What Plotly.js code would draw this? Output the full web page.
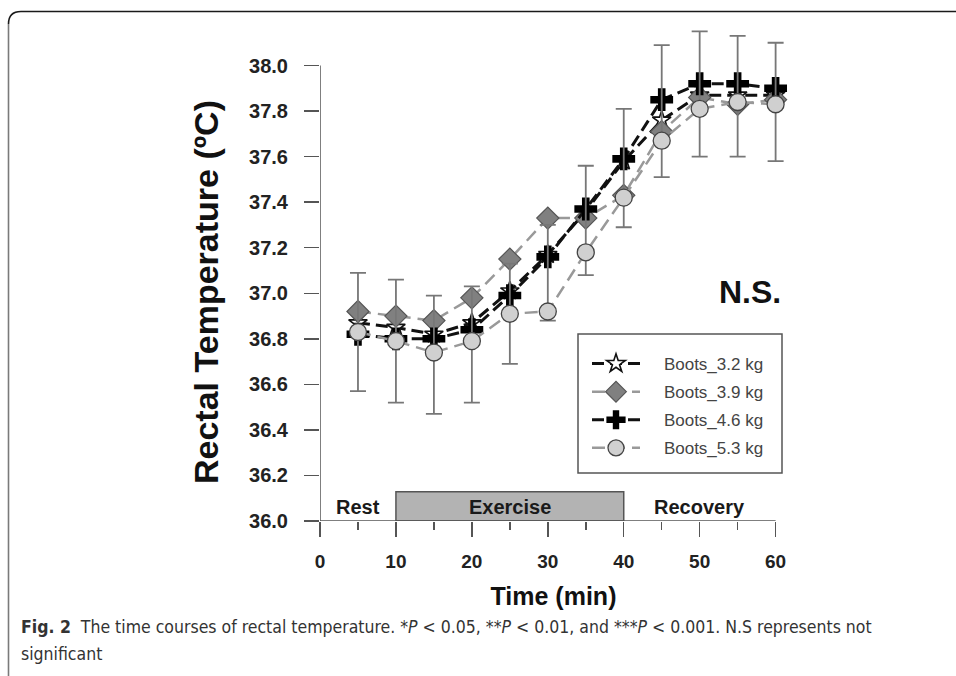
<!DOCTYPE html>
<html>
<head>
<meta charset="utf-8">
<script src="https://cdn.plot.ly/plotly-3.0.1.min.js"></script>
<style>
html,body{margin:0;padding:0;background:#fff;}
#chart{width:956px;height:676px;}
</style>
</head>
<body>
<div id="chart"></div>
<script>
// ---- data ----
const timeMin = [5, 10, 15, 20, 25, 30, 35, 40, 45, 50, 55, 60];
const boots32 = [36.87, 36.85, 36.82, 36.87, 37.01, 37.17, 37.36, 37.58, 37.76, 37.87, 37.87, 37.87];
const boots39 = [36.92, 36.90, 36.88, 36.98, 37.15, 37.33, 37.33, 37.43, 37.71, 37.86, 37.83, 37.85];
const boots46 = [36.82, 36.80, 36.80, 36.84, 36.99, 37.16, 37.37, 37.59, 37.85, 37.92, 37.92, 37.90];
const boots53 = [36.83, 36.79, 36.74, 36.79, 36.91, 36.92, 37.18, 37.42, 37.67, 37.81, 37.84, 37.83];
const errUpper = [37.09, 37.06, 36.99, 37.03, 37.13, 37.30, 37.56, 37.81, 38.09, 38.15, 38.13, 38.10];
const errLower = [36.57, 36.52, 36.47, 36.52, 36.69, 36.88, 37.08, 37.29, 37.51, 37.60, 37.60, 37.58];
const seriesNames = ['Boots_3.2 kg', 'Boots_3.9 kg', 'Boots_4.6 kg', 'Boots_5.3 kg'];
const yTicks = [36.0, 36.2, 36.4, 36.6, 36.8, 37.0, 37.2, 37.4, 37.6, 37.8, 38.0];
const xTicks = [0, 10, 20, 30, 40, 50, 60];
const phaseNames = ['Rest', 'Exercise', 'Recovery'];
const phaseCenter = [5, 25, 50];
const exerciseStart = 10, exerciseEnd = 40;
const yTitle = 'Rectal Temperature (ºC)';
const xTitle = 'Time (min)';

// ---- layout helpers (pixel -> paper) ----
const L = 320, R = 787, T = 20, B = 521;
const pxX = v => (v - L) / (R - L);
const pxY = v => (B - v) / (B - T);
const FONT = 'Liberation Sans, Arial, sans-serif';
const pad = '\u00a0\u00a0\u00a0\u00a0';

const blackDash = {color: '#111', width: 3, dash: '12px,6px'};
const grayDash = {color: '#999', width: 2.5, dash: '13px,7px'};

const traces = [
  {x: timeMin, y: boots32, name: pad + seriesNames[0], legendgroup: 'a', mode: 'lines+markers', cliponaxis: false,
   line: blackDash, marker: {symbol: 'star', size: 14, color: '#fff', line: {color: '#111', width: 1.6}}},
  {x: timeMin, y: boots39, name: pad + seriesNames[1], legendgroup: 'b', mode: 'lines+markers', cliponaxis: false,
   line: grayDash, marker: {symbol: 'diamond', size: 17, color: '#808080', line: {color: '#555', width: 1.2}}},
  {x: timeMin, y: boots46, name: pad + seriesNames[2], legendgroup: 'c', mode: 'lines+markers', cliponaxis: false,
   line: blackDash, marker: {symbol: 'cross', size: 19, color: '#000', line: {color: '#000', width: 0}}},
  {x: timeMin, y: boots53, name: pad + seriesNames[3], legendgroup: 'd', mode: 'lines+markers', cliponaxis: false,
   line: grayDash, marker: {symbol: 'circle', size: 17, color: '#d0d0d0', line: {color: '#444', width: 1.3}},
   error_y: {type: 'data', symmetric: false,
     array: errUpper.map((v, i) => v - boots53[i]),
     arrayminus: boots53.map((v, i) => v - errLower[i]),
     color: '#777', thickness: 1.8, width: 8}}
];

const annotations = phaseNames.map((n, i) => ({
  x: phaseCenter[i], y: 36.063, xref: 'x', yref: 'y', text: '<b>' + n + '</b>', showarrow: false,
  font: {family: FONT, size: 20, color: '#1a1a1a'}, xanchor: 'center', yanchor: 'middle'
}));
annotations.push({x: pxX(783), y: pxY(292), xref: 'paper', yref: 'paper', text: '<b>N.S.</b>', showarrow: false,
  xanchor: 'right', yanchor: 'middle', font: {family: FONT, size: 32, color: '#111'}});
// y-axis title (centred on the 36-38 span of the axis)
annotations.push({x: pxX(206), y: pxY(292), xref: 'paper', yref: 'paper', text: '<b>' + yTitle + '</b>', showarrow: false,
  textangle: -90, xanchor: 'center', yanchor: 'middle', font: {family: FONT, size: 34, color: '#111'}});
const CAP = 'Liberation Sans Narrow, DejaVu Sans Condensed, sans-serif';
annotations.push({x: pxX(19), y: pxY(627), xref: 'paper', yref: 'paper', showarrow: false, xanchor: 'left', yanchor: 'middle',
  text: '<b>Fig. 2</b>  The time courses of rectal temperature. *<i>P</i> &lt; 0.05, **<i>P</i> &lt; 0.01, and ***<i>P</i> &lt; 0.001. N.S represents not',
  font: {family: CAP, size: 17.5, color: '#333'}});
annotations.push({x: pxX(19), y: pxY(654), xref: 'paper', yref: 'paper', showarrow: false, xanchor: 'left', yanchor: 'middle',
  text: 'significant', font: {family: CAP, size: 17.5, color: '#333'}});

const shapes = [
  {type: 'rect', xref: 'x', yref: 'y', x0: exerciseStart, x1: exerciseEnd, y0: 36.0, y1: 36.128,
   fillcolor: '#b3b3b3', line: {color: '#555', width: 1.5}, layer: 'below'},
  // y axis line (36 to 38 only)
  {type: 'line', xref: 'x', yref: 'y', x0: 0, x1: 0, y0: 36, y1: 38, line: {color: '#555', width: 1.5}},
  // x axis line (0 to 60 only)
  {type: 'line', xref: 'x', yref: 'y', x0: 0, x1: 60, y0: 36, y1: 36, line: {color: '#555', width: 1.5}},
  // legend box
  {type: 'rect', xref: 'paper', yref: 'paper', x0: pxX(578), x1: pxX(782), y0: pxY(334), y1: pxY(473),
   line: {color: '#555', width: 1.5}, fillcolor: 'rgba(0,0,0,0)', layer: 'below'},
  // figure frame
  {type: 'path', xref: 'paper', yref: 'paper',
   path: `M${pxX(21)},${pxY(11.5)} L${pxX(957)},${pxY(11.5)} M${pxX(8.5)},${pxY(24)} Q${pxX(8.5)},${pxY(11.5)} ${pxX(21)},${pxY(11.5)}`,
   line: {color: '#1a1a1a', width: 1.6}},
  {type: 'line', xref: 'paper', yref: 'paper', x0: pxX(8.5), x1: pxX(8.5), y0: pxY(24), y1: pxY(680),
   line: {color: '#7a7a7a', width: 1.6}}
];

const layout = {
  width: 956, height: 676,
  margin: {l: L, r: 956 - R, t: T, b: 676 - B},
  paper_bgcolor: '#fff', plot_bgcolor: '#fff',
  showlegend: true,
  legend: {x: pxX(587), y: pxY(346), xanchor: 'left', yanchor: 'top',
    bgcolor: 'rgba(0,0,0,0)', borderwidth: 0,
    font: {family: FONT, size: 17, color: '#444'}, itemwidth: 48, tracegroupgap: 3},
  xaxis: {range: [0, 61.5], tickvals: xTicks, ticktext: xTicks.map(String),
    showline: false, showgrid: false, zeroline: false,
    ticks: 'outside', ticklen: 15, tickwidth: 1.5, tickcolor: '#555', ticklabelstandoff: 8,
    minor: {dtick: 5, ticks: 'outside', ticklen: 8, tickwidth: 1.5, tickcolor: '#555', showgrid: false},
    tickfont: {family: FONT, size: 19, color: '#222', weight: 'bold'},
    title: {text: '<b>' + xTitle + '</b>', font: {family: FONT, size: 25, color: '#111'}, standoff: 16}},
  yaxis: {range: [36, 38.2], tickvals: yTicks, ticktext: yTicks.map(v => v.toFixed(1)),
    showline: false, showgrid: false, zeroline: false,
    ticks: 'outside', ticklen: 15, tickwidth: 1.5, tickcolor: '#555', ticklabelstandoff: 12,
    tickfont: {family: FONT, size: 20, color: '#222', weight: 'bold'}},
  annotations: annotations,
  shapes: shapes
};

Plotly.newPlot('chart', traces, layout, {displayModeBar: false, staticPlot: true});
</script>
</body>
</html>
